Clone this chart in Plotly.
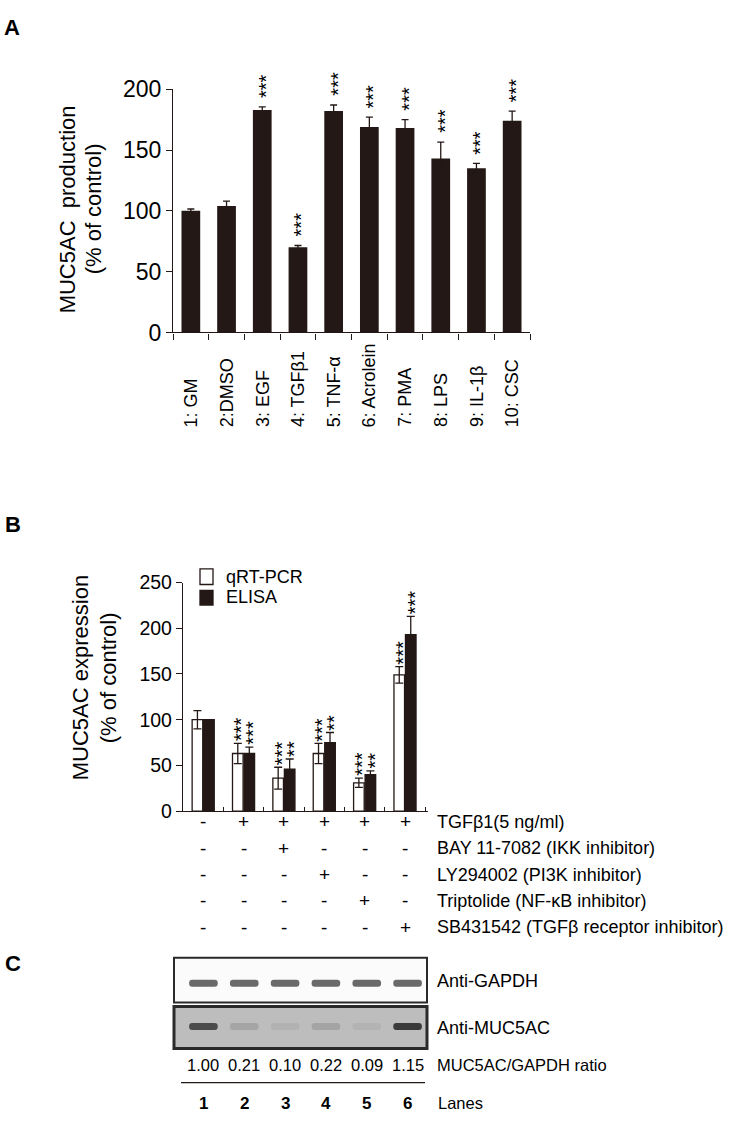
import plotly.graph_objects as go

W, H = 735, 1125
FONT = "Liberation Sans, Arial, sans-serif"
INK = "#231815"

# ---- panel A data
a_labels = ["1: GM", "2:DMSO", "3: EGF", "4: TGFβ1", "5: TNF-α",
            "6: Acrolein", "7: PMA", "8: LPS", "9: IL-1β", "10: CSC"]
a_values = [100, 104, 183, 70, 182, 169, 168, 143, 135, 174]
a_errors = [1.5, 4, 2.5, 1.5, 5, 8, 7, 13.5, 4, 8]
a_stars = ["", "", "***", "***", "***", "***", "***", "***", "***", "***"]

# ---- panel B data
lanes = ["1", "2", "3", "4", "5", "6"]
pcr_values = [100, 63, 36, 63, 31, 149]
pcr_errors = [10, 11, 12, 11, 5, 9]
elisa_values = [100, 63, 46, 75, 40, 193]
elisa_errors = [0, 7, 11, 11, 4, 20]
pcr_stars = ["", "***", "***", "***", "***", "***"]
elisa_stars = ["", "***", "**", "**", "**", "***"]

treatments = ["TGFβ1(5 ng/ml)", "BAY 11-7082 (IKK inhibitor)",
              "LY294002 (PI3K inhibitor)", "Triptolide (NF-κB inhibitor)",
              "SB431542 (TGFβ receptor inhibitor)"]
treat_signs = [["-", "+", "+", "+", "+", "+"],
               ["-", "-", "+", "-", "-", "-"],
               ["-", "-", "-", "+", "-", "-"],
               ["-", "-", "-", "-", "+", "-"],
               ["-", "-", "-", "-", "-", "+"]]

# ---- panel C data
gapdh_band = [1, 1, 1, 1, 1, 1]
muc_ratio = [1.00, 0.21, 0.10, 0.22, 0.09, 1.15]


def px(x):
    return x / W


def py(y):
    return 1 - y / H


def ann(text, x, y, size=18, xref="paper", yref="paper", **kw):
    d = dict(text=text, x=x, y=y, xref=xref, yref=yref, showarrow=False,
             xanchor="center", yanchor="middle",
             font=dict(family=FONT, size=size, color="black"))
    d.update(kw)
    return d


fig = go.Figure()

# A bars
fig.add_trace(go.Bar(x=a_labels, y=a_values, marker=dict(color=INK, line=dict(width=0)),
                     error_y=dict(type="data", array=a_errors, color=INK, thickness=1.3, width=3.5),
                     xaxis="x", yaxis="y", showlegend=False))

# B bars
fig.add_trace(go.Bar(x=lanes, y=pcr_values, name="qRT-PCR",
                     marker=dict(color="white", line=dict(color=INK, width=1.3)),
                     error_y=dict(type="data", array=pcr_errors, color=INK, thickness=1.3, width=4),
                     xaxis="x2", yaxis="y2", showlegend=False))
fig.add_trace(go.Bar(x=lanes, y=elisa_values, name="ELISA",
                     marker=dict(color=INK, line=dict(color=INK, width=1.3)),
                     error_y=dict(type="data", array=elisa_errors, color=INK, thickness=1.3, width=4),
                     xaxis="x2", yaxis="y2", showlegend=False))

# C gel bands
fig.add_trace(go.Bar(x=lanes, y=[0.16] * 6, base=0.35, width=0.7,
                     marker=dict(color=gapdh_band, colorscale=[[0, "#f4f4f4"], [1, "#6a6a6a"]],
                                 cmin=0, cmax=1, line=dict(width=0), cornerradius=3),
                     xaxis="x3", yaxis="y3", showlegend=False))
fig.add_trace(go.Bar(x=lanes, y=[0.17] * 6, base=0.44, width=0.7,
                     marker=dict(color=muc_ratio, colorscale=[[0, "#bdbdbd"], [1, "#3a3a3a"]],
                                 cmin=0, cmax=1.15, line=dict(width=0), cornerradius=3),
                     xaxis="x3", yaxis="y4", showlegend=False))

ax_common = dict(showgrid=False, zeroline=False, showline=True, linecolor=INK, linewidth=1.3,
                 tickcolor=INK, tickwidth=1.3)

annotations = []
shapes = []

# panel letters
annotations.append(ann("<b>A</b>", px(2), py(15), size=22, xanchor="left"))
annotations.append(ann("<b>B</b>", px(3), py(524), size=22, xanchor="left"))
annotations.append(ann("<b>C</b>", px(3), py(973), size=22, xanchor="left"))

# A titles / labels
annotations.append(ann("MUC5AC\u00a0 production", px(67), py(201), size=22, textangle=-90))
annotations.append(ann("(% of control)", px(93), py(201), size=22, textangle=-90))
for i, lab in enumerate(a_labels):
    annotations.append(ann(lab, i, py(426), size=18, xref="x", textangle=-90, yanchor="bottom"))
for i, (v, e, s) in enumerate(zip(a_values, a_errors, a_stars)):
    if s:
        annotations.append(ann(s, i, v + e, size=20, xref="x", yref="y", textangle=-90,
                               yanchor="bottom", yshift=7, xshift=4))

# B titles / legend / stars
annotations.append(ann("MUC5AC expression", px(80), py(681), size=22, textangle=-90))
annotations.append(ann("(% of control)", px(108), py(681), size=22, textangle=-90))
shapes.append(dict(type="rect", xref="paper", yref="paper", x0=px(200), x1=px(213),
                   y0=py(569), y1=py(585), fillcolor="white", line=dict(color=INK, width=1.3)))
shapes.append(dict(type="rect", xref="paper", yref="paper", x0=px(200), x1=px(213),
                   y0=py(591), y1=py(606), fillcolor=INK, line=dict(color=INK, width=1.3)))
annotations.append(ann("qRT-PCR", px(224), py(577), size=18, xanchor="left"))
annotations.append(ann("ELISA", px(224), py(598), size=18, xanchor="left"))
for i, (v, e, s) in enumerate(zip(pcr_values, pcr_errors, pcr_stars)):
    if s:
        annotations.append(ann(s, i, v + e, size=20, xref="x2", yref="y2", textangle=-90,
                               yanchor="bottom", yshift=0, xshift=-6 + 4))
for i, (v, e, s) in enumerate(zip(elisa_values, elisa_errors, elisa_stars)):
    if s:
        annotations.append(ann(s, i, v + e, size=20, xref="x2", yref="y2", textangle=-90,
                               yanchor="bottom", yshift=0, xshift=6 + 4))

# B treatment table
row_y = [828, 855, 882, 909, 936]
for name, signs, yy in zip(treatments, treat_signs, row_y):
    annotations.append(ann(name, px(435), py(yy), size=18, xanchor="left"))
    for i, sg in enumerate(signs):
        annotations.append(ann(sg, i, py(yy), size=19, xref="x2"))

# C gel frames
shapes.append(dict(type="rect", xref="paper", yref="paper", layer="below",
                   x0=px(174), x1=px(427), y0=py(1013), y1=py(967),
                   fillcolor="#fbfbfb", line=dict(color="#2a2a2a", width=2)))
shapes.append(dict(type="rect", xref="paper", yref="paper", layer="below",
                   x0=px(174), x1=px(427), y0=py(1060), y1=py(1017),
                   fillcolor="#bdbdbd", line=dict(color="#2a2a2a", width=3)))
shapes.append(dict(type="line", xref="paper", yref="paper",
                   x0=px(181), x1=px(425), y0=py(1095), y1=py(1095),
                   line=dict(color=INK, width=1.3)))
annotations.append(ann("Anti-GAPDH", px(435), py(991), size=18, xanchor="left"))
annotations.append(ann("Anti-MUC5AC", px(435), py(1039), size=18, xanchor="left"))
annotations.append(ann("MUC5AC/GAPDH ratio", px(435), py(1077), size=16.5, xanchor="left"))
annotations.append(ann("Lanes", px(436), py(1116), size=16.5, xanchor="left"))
for i, (lane, r) in enumerate(zip(lanes, muc_ratio)):
    annotations.append(ann("%.2f" % r, i, py(1077), size=16.5, xref="x3"))
    annotations.append(ann("<b>%s</b>" % lane, i, py(1116), size=17, xref="x3"))

fig.update_layout(
    width=W, height=H, margin=dict(l=0, r=0, t=0, b=0),
    paper_bgcolor="white", plot_bgcolor="white",
    barmode="group", bargap=0.43, bargroupgap=0.08,
    font=dict(family=FONT, color="black"),
    xaxis=dict(type="category", domain=[px(173), px(530)], anchor="y", ticks="outside", ticklen=6,
               tickson="boundaries", showticklabels=False, **ax_common),
    yaxis=dict(domain=[py(327), py(78)], anchor="x", range=[0, 200], dtick=50,
               ticks="outside", ticklen=6, tickfont=dict(size=23, color="black"), **ax_common),
    xaxis2=dict(type="category", domain=[px(183), px(428)], anchor="y2", ticks="inside", ticklen=4,
                tickson="boundaries", showticklabels=False, **ax_common),
    yaxis2=dict(domain=[py(817), py(583)], anchor="x2", range=[0, 250], dtick=50,
                ticks="outside", ticklen=6, tickfont=dict(size=19.5, color="black"), **ax_common),
    xaxis3=dict(type="category", domain=[px(183), px(428)], anchor="y3", visible=False),
    yaxis3=dict(domain=[py(1013), py(967)], anchor="x3", range=[0, 1], visible=False),
    yaxis4=dict(domain=[py(1060), py(1017)], anchor="x3", range=[0, 1], visible=False),
    annotations=annotations, shapes=shapes,
)

# the page's default body margin would shift the figure by 8px
fig.write_html("out.html", config={"displayModeBar": False},
               post_script="document.body.style.margin='0';")
